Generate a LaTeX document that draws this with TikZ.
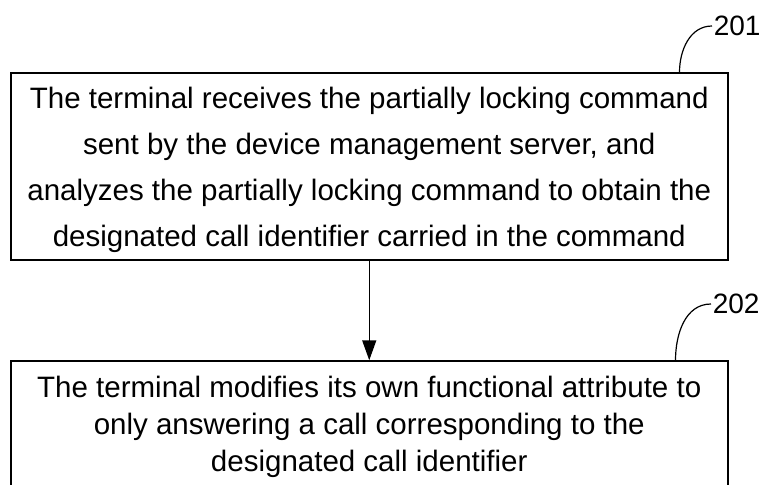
\documentclass[tikz,border=0pt]{standalone}
\usepackage{fontspec}
\setmainfont{Liberation Sans}
\usetikzlibrary{arrows.meta}
\tikzset{stepbox/.style={draw, line width=1.5pt, align=center, inner sep=0pt, minimum width=717pt},
  leader/.style={line width=1.2pt},
  reflabel/.style={anchor=west, inner sep=1pt, font=\fontsize{28}{30}\selectfont}}
\begin{document}
\begin{tikzpicture}[x=1pt, y=-1pt, line width=1.5pt]
			\useasboundingbox (0,0) rectangle (767,484);
			\node[stepbox, minimum height=187pt, font=\fontsize{29.5}{46}\selectfont] (s201) at (369.25,166.5)
			{\rule{0pt}{29pt}The terminal receives the partially locking command\\ sent by the device management server, and\\ analyzes the partially locking command to obtain the\\ designated call identifier carried in the command};
			\node[stepbox, minimum height=132pt, font=\fontsize{29.5}{37}\selectfont] (s202) at (369.25,427)
			{The terminal modifies its own functional attribute to\\ only answering a call corresponding to the\\ designated call identifier};
			\node[reflabel] (n201) at (712,26) {201};
			\node[reflabel] (n202) at (711,304) {202};
			\coordinate (t201) at ([xshift=-49pt]s201.north east);
			\coordinate (t202) at ([xshift=-53pt]s202.north east);
			\draw [-{Triangle[length=20pt,width=14pt]}] (s201.south) -- (s202.north);
			\draw [leader] (t201) to[out=90, in=180] (n201.west);
			\draw [leader] (t202) to[out=90, in=180] (n202.west);
		\end{tikzpicture}
\end{document}
